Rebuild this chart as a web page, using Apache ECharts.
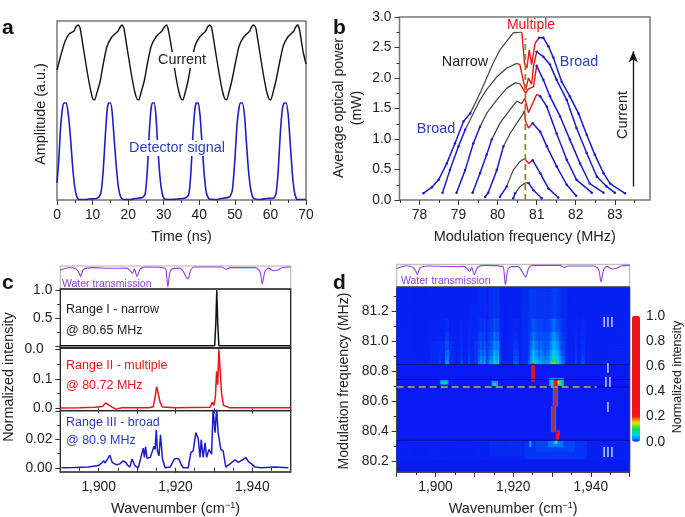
<!DOCTYPE html>
<html><head><meta charset="utf-8">
<style>html,body{margin:0;padding:0;background:#fff}#c{width:685px;height:517px}</style>
<script src="https://cdn.jsdelivr.net/npm/echarts@6/dist/echarts.min.js"></script>
</head><body><div id="c"></div>
<script>
// ---------- DATA ----------
const currentTrace=[[0,1.30],[1.1,1.45],[2.2,1.58],[3.4,1.66],[4.8,1.69],[5.3,1.73],[6,1.75],[6.5,1.72],[7.5,1.50],[8.5,1.28],[9.5,1.09],[10.1,1.01],[10.6,1.0],[11.2,1.07],[12.1,1.18],[13,1.36],[14,1.53],[15.4,1.63],[17.2,1.69],[17.6,1.72],[18.3,1.75],[18.8,1.72],[19.8,1.50],[20.8,1.28],[21.8,1.09],[22.5,1.01],[23,1.0],[23.6,1.07],[24.6,1.20],[25.5,1.38],[26.5,1.54],[27.8,1.63],[29.5,1.69],[30,1.72],[30.8,1.75],[31.3,1.70],[32.3,1.5],[33.2,1.28],[34.2,1.09],[34.9,1.01],[35.4,1.0],[36,1.07],[36.9,1.20],[37.8,1.38],[38.8,1.54],[40.1,1.63],[41.8,1.69],[42.3,1.73],[43,1.75],[43.5,1.72],[44.5,1.5],[45.5,1.28],[46.5,1.09],[47.2,1.01],[47.7,1.0],[48.3,1.07],[49.2,1.2],[50.2,1.38],[51.2,1.54],[52.5,1.63],[54.2,1.69],[54.7,1.73],[55.3,1.75],[55.9,1.72],[56.9,1.5],[57.9,1.28],[58.9,1.09],[59.6,1.01],[60.1,1.0],[60.7,1.07],[61.6,1.2],[62.6,1.38],[63.6,1.54],[64.9,1.63],[66.6,1.69],[67.1,1.73],[67.7,1.75],[68.2,1.70],[69.2,1.48],[70,1.36]];
const detectorTrace=[[0,.17],[.5,.4],[1,.72],[1.6,.93],[2,.97],[2.6,.97],[3.2,.85],[3.8,.62],[4.4,.33],[5,.13],[5.6,.03],[6.2,.005],[8,.005],[9,.01],[11,.015],[11.8,.03],[12.4,.08],[13,.3],[13.6,.65],[14.1,.9],[14.5,.97],[15,.97],[15.5,.88],[16.1,.6],[16.7,.32],[17.3,.12],[17.9,.03],[18.6,.005],[20.5,.005],[22,.015],[24,.025],[24.8,.06],[25.4,.3],[25.9,.65],[26.4,.9],[26.8,.97],[27.3,.97],[27.8,.85],[28.3,.55],[28.9,.25],[29.5,.08],[30.2,.01],[32,.005],[34,.01],[36,.02],[37,.05],[37.6,.25],[38.2,.65],[38.8,.92],[39.2,.97],[39.7,.97],[40.2,.85],[40.8,.55],[41.4,.25],[42,.07],[42.8,.01],[45,.005],[46,.015],[48.5,.03],[49.3,.1],[50,.4],[50.6,.75],[51.2,.93],[51.6,.97],[52.1,.97],[52.7,.85],[53.3,.55],[53.9,.27],[54.5,.1],[55.2,.02],[57,.005],[59,.015],[61,.02],[61.6,.07],[62.2,.3],[62.8,.68],[63.4,.92],[63.9,.97],[64.4,.97],[65,.85],[65.6,.55],[66.2,.25],[66.8,.07],[67.6,.005],[70,.005]];

// panel b: each curve has four consecutive parts
const c8BroadL=[[78.10,.11],[78.32,.21],[78.49,.33],[78.70,.60],[78.91,.93],[79.13,1.29],[79.30,1.42]];
const c8Narrow=[[79.30,1.42],[79.55,1.75],[79.72,2.0],[79.89,2.25],[80.06,2.46],[80.23,2.60],[80.40,2.74],[80.57,2.75],[80.62,2.75]];
const c8Multi=[[80.62,2.75],[80.69,2.24],[80.75,2.16],[80.81,2.46],[80.87,2.22],[80.96,2.57],[81.06,2.66]];
const c8BroadR=[[81.06,2.66],[81.17,2.66],[81.30,2.52],[81.43,2.33],[81.64,1.94],[81.85,1.70],[82.07,1.42],[82.28,1.07],[82.49,.74],[82.71,.44],[82.88,.27],[83.26,.11]];
const c7BroadL=[[78.59,.12],[78.78,.49],[79.0,.88],[79.17,1.15]];
const c7Narrow=[[79.17,1.15],[79.55,1.64],[79.72,1.81],[79.98,2.02],[80.23,2.16],[80.49,2.24]];
const c7Multi=[[80.49,2.24],[80.57,2.22],[80.66,1.95],[80.72,1.8],[80.79,2.0],[80.87,1.9],[80.92,2.2],[81.0,2.43]];
const c7BroadR=[[81.0,2.43],[81.17,2.35],[81.34,2.22],[81.51,1.97],[81.77,1.64],[82.02,1.18],[82.28,.77],[82.54,.38],[82.79,.22],[83.0,.12]];
const c6BroadL=[[78.95,.12],[79.17,.49],[79.38,.93],[79.55,1.2]];
const c6Narrow=[[79.55,1.2],[79.72,1.42],[79.98,1.64],[80.23,1.83],[80.45,1.92],[80.57,1.91]];
const c6Multi=[[80.57,1.91],[80.66,1.81],[80.72,1.75],[80.79,1.82],[80.92,1.86],[81.0,2.2]];
const c6BroadR=[[81.0,2.2],[81.17,1.97],[81.34,1.70],[81.6,1.37],[81.85,.99],[82.11,.60],[82.36,.27],[82.71,.12]];
const c5BroadL=[[79.36,.12],[79.55,.44],[79.72,.74],[79.85,.99]];
const c5Narrow=[[79.85,.99],[80.06,1.26],[80.32,1.48],[80.49,1.62],[80.62,1.58]];
const c5Multi=[[80.62,1.58],[80.70,1.67],[80.79,1.43],[81.0,1.73],[81.09,1.70]];
const c5BroadR=[[81.09,1.70],[81.26,1.53],[81.51,1.09],[81.77,.66],[82.02,.33],[82.41,.12]];
const c4BroadL=[[79.68,.05],[79.76,.12],[79.98,.49],[80.15,.88]];
const c4Narrow=[[80.15,.88],[80.32,1.09],[80.49,1.26],[80.66,1.42],[80.69,1.47]];
const c4Multi=[[80.69,1.47],[80.71,1.3],[80.79,1.18],[80.9,1.26]];
const c4BroadR=[[80.9,1.26],[81.09,1.12],[81.26,.88],[81.51,.55],[81.77,.25],[82.01,.07]];
const c3BroadL=[[80.06,.05],[80.23,.22]];
const c3Narrow=[[80.23,.22],[80.4,.49],[80.57,.63],[80.69,.68]];
const c3Multi=[[80.69,.68],[80.79,.60],[80.9,.65]];
const c3BroadR=[[80.9,.65],[81.09,.44],[81.3,.19],[81.55,.04]];
const c2BroadL=[[80.4,.03],[80.45,.11]];
const c2Narrow=[[80.45,.11],[80.57,.22],[80.7,.28]];
const c2Multi=[[80.7,.28],[80.79,.28]];
const c2BroadR=[[80.79,.28],[80.92,.16],[81.13,.03]];
const broadParts=[c8BroadL,c8BroadR,c7BroadL,c7BroadR,c6BroadL,c6BroadR,c5BroadL,c5BroadR,c4BroadL,c4BroadR,c3BroadL,c3BroadR,c2BroadL,c2BroadR];
const narrowParts=[c8Narrow,c7Narrow,c6Narrow,c5Narrow,c4Narrow,c3Narrow,c2Narrow];
const multiParts=[c8Multi,c7Multi,c6Multi,c5Multi,c4Multi,c3Multi,c2Multi];
const guideFreqLine=[[80.71,0],[80.71,2.65]];
const currentArrow=[[83.47,.22],[83.47,2.44]];

const waterTrace=[[1890,.85],[1892.5,.98],[1894.2,.9],[1894.9,.72],[1895.3,.55],[1896,.87],[1898.2,.97],[1903.4,.94],[1907.3,.95],[1908.1,.84],[1908.8,.71],[1909.3,.9],[1910,.55],[1910.8,.9],[1912.5,1.0],[1917.3,.94],[1917.7,.55],[1918,.06],[1918.5,.71],[1919,.9],[1921.2,.95],[1922,.79],[1923.2,.43],[1924,.87],[1925,1.0],[1932,1.0],[1933.2,.9],[1934.2,.97],[1940.7,.97],[1942,.79],[1942.6,.2],[1943.3,.79],[1944.2,.95],[1945.5,.82],[1946.8,.87],[1947.7,.97],[1950,1.0]];
const narrowSpectrum=[[1890,0],[1930.2,0],[1930.5,.4],[1930.75,1],[1931,.4],[1931.3,0],[1950,0]];
const multipleSpectrum=[[1890,.001],[1895,.002],[1899,.003],[1901,.006],[1901.8,.018],[1902.5,.012],[1903.5,.004],[1904.5,-.003],[1906,.002],[1913,.002],[1914.2,.005],[1914.7,.04],[1915.1,.073],[1915.5,.07],[1916,.02],[1916.6,.004],[1920,.002],[1929,.003],[1929.6,.02],[1930,.01],[1930.4,.04],[1930.7,.125],[1931,.08],[1931.3,.2],[1931.7,.195],[1932,.05],[1932.5,.01],[1934,.002],[1950,.002]];
const broadSpectrum=[[1890.3,0],[1893.8,.0002],[1897.3,.0005],[1899.9,.0016],[1900.8,.0034],[1901.3,.005],[1901.6,.0034],[1902.3,.0062],[1902.9,.009],[1903.5,.0039],[1904.7,.0021],[1905.5,.0028],[1906.4,.005],[1907,.0039],[1907.5,.002],[1908.1,.0005],[1908.7,.0062],[1909.4,.0016],[1910.3,0],[1911,.0074],[1911.6,.014],[1911.9,.0074],[1912.2,.015],[1912.6,.0067],[1913.4,.0074],[1914,.012],[1914.4,.0154],[1914.7,.013],[1915,.027],[1915.3,.012],[1915.7,.0085],[1916.1,.0235],[1916.6,.0062],[1917.3,0],[1918.6,.0005],[1919.7,.0062],[1920.3,.0067],[1920.9,.0062],[1921.4,.0028],[1922,0],[1923.3,0],[1924,.0108],[1924.6,.012],[1925.3,.025],[1925.9,.021],[1926.4,.0074],[1926.7,.02],[1927.2,.0074],[1927.7,.0177],[1928.1,.0074],[1928.7,.0131],[1929.4,.0097],[1929.8,.042],[1930.3,.025],[1930.7,.042],[1931.1,.025],[1931.8,.0131],[1932.4,.012],[1933.1,.0005],[1934.2,.0028],[1935.5,.0057],[1936.4,.0039],[1937.7,.0062],[1938.3,.0074],[1939,.0044],[1939.8,.0028],[1940.7,.0005],[1942.4,0],[1945.9,.0005],[1949.4,0]];

// panel d: stripes read per frequency band, and extra rectangular patches
const stripeCols=[1901,1902.5,1903,1906.5,1908.5,1911,1911.5,1912,1912.5,1913.5,1914,1914.5,1915,1915.5,1916,1920,1920.5,1921,1924,1924.5,1925,1925.5,1926,1926.5,1927,1927.5,1928,1928.5,1929,1929.5,1930,1930.5,1931,1931.5,1932,1932.5,1933,1936,1937.5,1938];
const stripeBands=[[80.85,80.875],[80.875,80.905],[80.905,80.945],[80.945,81.0],[81.0,81.07],[81.07,81.16],[81.16,81.36]];
const stripeBand1=[.008,.025,.03,.012,.012,.02,.03,.02,.03,.02,.03,.03,.07,.04,.06,.012,.015,.012,.02,.04,.08,.05,.045,.03,.04,.03,.025,.03,.03,.05,.10,.12,.07,.06,.03,.02,.015,.008,.01,.01];
const stripeBand2=[.006,.018,.024,.009,.009,.015,.024,.015,.024,.015,.022,.024,.055,.03,.045,.009,.012,.009,.015,.03,.06,.038,.034,.022,.03,.022,.02,.022,.024,.04,.07,.08,.05,.045,.024,.015,.012,.006,.008,.008];
const stripeBand3=[.005,.014,.018,.007,.007,.012,.018,.012,.018,.012,.018,.018,.04,.024,.034,.007,.009,.007,.012,.024,.045,.03,.026,.018,.024,.018,.015,.018,.018,.03,.05,.055,.04,.034,.018,.012,.01,.005,.006,.006];
const stripeBand4=[.004,.01,.012,.005,.005,.009,.014,.009,.014,.009,.013,.014,.028,.018,.024,.005,.007,.005,.01,.018,.03,.022,.018,.014,.018,.014,.012,.014,.014,.022,.035,.04,.028,.024,.014,.01,.008,.004,.005,.005];
const stripeBand5=[.003,.007,.008,.004,.004,.007,.01,.007,.01,.007,.01,.01,.02,.013,.017,.004,.005,.004,.008,.014,.02,.016,.013,.011,.013,.011,.01,.011,.011,.016,.024,.028,.02,.017,.011,.008,.006,.003,.004,.004];
const stripeBand6=[.002,.004,.005,.003,.003,.005,.007,.005,.007,.005,.007,.007,.012,.009,.011,.003,.004,.003,.006,.01,.013,.011,.01,.008,.01,.008,.007,.008,.008,.011,.016,.018,.013,.011,.008,.006,.005,.002,.003,.003];
const stripeBand7=[.001,.002,.002,.002,.002,.003,.004,.003,.004,.003,.004,.004,.006,.005,.006,.002,.002,.002,.004,.006,.007,.006,.006,.005,.006,.005,.004,.005,.005,.006,.008,.009,.007,.006,.005,.004,.003,.001,.002,.002];
const stripeValues=[stripeBand1,stripeBand2,stripeBand3,stripeBand4,stripeBand5,stripeBand6,stripeBand7];
// [wavenumber from, to, frequency from, to, intensity]
const heatPatches=[
 [1890,1950,80.85,81.36,.002],[1922,1924,80.85,81.36,.004],[1924,1926,80.85,81.36,.007],[1926,1932,80.85,81.36,.006],[1932,1934,80.85,81.36,.004],
 [1909,1917,80.85,81.25,.003],[1899,1905,80.85,81.0,.004],[1910,1917,80.85,81.0,.006],[1924,1933,80.85,81.0,.01],
 [1890,1950,80.2,80.337,.002],[1914,1923,80.24,80.337,.004],[1923,1939,80.22,80.337,.006],[1926,1936,80.26,80.337,.009],[1924.25,1924.75,80.29,80.337,.035],
 [1929,1933,80.29,80.337,.02],[1930.5,1931.5,80.31,80.337,.05],[1931,1931.5,80.325,80.337,.13],
 [1901.25,1903.25,80.715,80.745,.03],[1901.5,1903,80.72,80.74,.06],[1901.75,1902.75,80.725,80.735,.1],
 [1914.5,1916,80.70,80.73,.03],[1914.75,1915.75,80.705,80.725,.06],[1915,1915.5,80.71,80.72,.1],
 [1929.25,1933,80.70,80.75,.03],[1929.75,1932.75,80.705,80.745,.06],[1930.25,1932.5,80.71,80.74,.1],[1931,1932.25,80.715,80.735,.16],
 [1930.5,1931.5,80.70,80.745,1],
 [1930.5,1931.25,80.56,80.70,1],[1930.25,1931.5,80.56,80.70,.02],
 [1930,1930.75,80.395,80.565,1],[1929.75,1931,80.395,80.565,.02],
 [1931.25,1932,80.375,80.405,1],[1931,1931.75,80.34,80.385,1],
 [1924.75,1925.5,80.74,80.853,1],[1930,1931,80.85,80.865,.12]
];
const regimeLines=[80.845,80.745,80.695,80.337];
const guideFreqD=[[1890,80.695],[1941.5,80.695]];

// ticks
const aTicks=[0,10,20,30,40,50,60,70], aMinor=[5,15,25,35,45,55,65];
const bXTicks=[78,79,80,81,82,83], bXMinor=[77.5,78.5,79.5,80.5,81.5,82.5,83.5];
const bYTicks=[0,.5,1,1.5,2,2.5,3], bYMinor=[.25,.75,1.25,1.75,2.25,2.75];
const wnLabels=[1900,1920,1940], wnMajor=[1890,1900,1910,1920,1930,1940,1950], wnMinor=[1895,1905,1915,1925,1935,1945];
const dYTicks=[80.2,80.4,80.6,80.8,81.0,81.2], dYMinor=[80.3,80.5,80.7,80.9,81.1,81.3];
const barTicks=[0,.2,.4,.6,.8,1];

// ---------- BUILD ----------
const FONT='"Liberation Sans",Arial,sans-serif', INK='#222';
const BLUE='#1c1cc8', RED='#e8141c', DARK='#444', PURPLE='#9040e0', TXTBLUE='#2b3cc4';
const grid=[],xAxis=[],yAxis=[],series=[],graphic=[];
function addGrid(l,t,w,h,col,bw,bg){grid.push({left:l,top:t,width:w,height:h,show:true,borderColor:col||'#777',borderWidth:bw||1.4,backgroundColor:bg||'transparent',containLabel:false});return grid.length-1;}
function ax(list,g,pos,min,max,o){o=o||{};
 const a={type:'value',gridIndex:g,position:pos,min,max,splitLine:{show:false},axisLine:{show:false},
  axisTick:{show:!!(o.major&&o.major.length),inside:!!o.inside,length:o.len||5,customValues:o.major||[],lineStyle:{color:'#333',width:1}},
  axisLabel:{show:!!o.labels,customValues:o.labels||[],formatter:o.fmt,margin:o.margin||8,fontFamily:FONT,fontSize:13.8,color:INK,showMinLabel:true,showMaxLabel:true}};
 if(o.name){a.name=o.name;a.nameLocation='middle';a.nameGap=o.nameGap||29;a.nameTextStyle=Object.assign({fontFamily:FONT,fontSize:14.5,color:INK},o.nameStyle||{});}
 list.push(a);return list.length-1;}
function lineS(xi,yi,data,color,w,o){series.push(Object.assign({type:'line',xAxisIndex:xi,yAxisIndex:yi,data,symbol:'none',silent:true,animation:false,lineStyle:{color,width:w}},o||{}));}
function T(text,x,y,o){o=o||{};graphic.push({type:'text',x,y,rotation:o.rot||0,z:o.z||50,silent:true,style:Object.assign({text,fontFamily:FONT,fontSize:o.size||14.4,fill:o.color||INK,align:o.align||'center',verticalAlign:o.va||'middle',fontWeight:o.weight||'normal'},o.bg?{backgroundColor:o.bg,padding:o.pad||[0,1]}:{},o.ls?{lineHeight:o.ls}:{})});}
const f1=v=>v.toFixed(1), f2=v=>v.toFixed(2), fc=v=>String(v).replace(/^(\d)(\d{3})$/,'$1,$2');
const wnName={name:'{a|Wavenumber (cm}{s|−1}{a|)}',nameStyle:{rich:{a:{fontFamily:FONT,fontSize:14.5,color:INK},s:{fontFamily:FONT,fontSize:9,color:INK,verticalAlign:'top',padding:[0,0,6,0]}}}};

// panel a
let g=addGrid(57,21,249,179,'#777',1.5);
let x=ax(xAxis,g,'bottom',0,70,{major:aTicks,labels:aTicks,name:'Time (ns)'});
ax(xAxis,g,'bottom',0,70,{major:aMinor,len:3});
let y=ax(yAxis,g,'left',0,1.79,{});
lineS(x,y,currentTrace,'#111',1.4,{smooth:.15});
lineS(x,y,detectorTrace,BLUE,1.6,{smooth:.2});

// panel b
g=addGrid(399.5,17,250.5,183,'#777',1.5);
x=ax(xAxis,g,'bottom',77.49,83.9,{major:bXTicks,labels:bXTicks,name:'Modulation frequency (MHz)'});
ax(xAxis,g,'bottom',77.49,83.9,{major:bXMinor,len:3});
y=ax(yAxis,g,'left',0,3,{major:bYTicks,labels:bYTicks,fmt:f1});
ax(yAxis,g,'left',0,3,{major:bYMinor,len:3});
broadParts.forEach(d=>lineS(x,y,d,BLUE,1.5,{symbol:'circle',symbolSize:2.5,itemStyle:{color:BLUE}}));
narrowParts.forEach(d=>lineS(x,y,d,DARK,1.2));
multiParts.forEach(d=>lineS(x,y,d,RED,1.4));
lineS(x,y,guideFreqLine,'#8a8a2a',1.8,{lineStyle:{color:'#8a8a2a',width:1.8,type:[6,4]},z:5});
lineS(x,y,[],'#111',1.3,{markLine:{silent:true,animation:false,symbol:['none','arrow'],symbolSize:[7,11],label:{show:false},lineStyle:{color:'#111',width:1.3,type:'solid'},
 data:[[{coord:currentArrow[0]},{coord:currentArrow[1]}]]}});

// panel c water
g=addGrid(60.3,266,230.4,23,'#999',.8);
x=ax(xAxis,g,'bottom',1890,1950,{});
y=ax(yAxis,g,'left',-.05,1.05,{});
lineS(x,y,waterTrace,PURPLE,1.1,{smooth:.3});
// c1
g=addGrid(60.3,289,230.4,59,'#222',1.3);
x=ax(xAxis,g,'bottom',1890,1950,{});
y=ax(yAxis,g,'left',-.04,1.02,{major:[0,.5,1],labels:[.5,1],fmt:f1});
ax(yAxis,g,'left',-.04,1.02,{major:[.25,.75],len:3});
lineS(x,y,narrowSpectrum,'#111',1.5);
// c2
g=addGrid(60.3,348,230.4,62.6,'#222',1.3);
x=ax(xAxis,g,'bottom',1890,1950,{});
ax(xAxis,g,'top',1890,1950,{major:wnMajor,inside:true,len:3});
y=ax(yAxis,g,'left',-.008,.2045,{major:[0,.1,.2],labels:[0,.1],fmt:f1});
ax(yAxis,g,'left',-.008,.2045,{major:[.05,.15],len:3});
lineS(x,y,multipleSpectrum,RED,1.5);
// c3
g=addGrid(60.3,410.6,230.4,62.4,'#222',1.3);
x=ax(xAxis,g,'bottom',1890,1950,{major:wnMajor,labels:wnLabels,fmt:fc,...wnName});
ax(xAxis,g,'bottom',1890,1950,{major:wnMinor,len:3});
ax(xAxis,g,'top',1890,1950,{major:wnMajor,inside:true,len:3});
y=ax(yAxis,g,'left',-.003,.0407,{major:[0,.02,.04],labels:[0,.02],fmt:f2});
ax(yAxis,g,'left',-.003,.0407,{major:[.01,.03],len:3});
lineS(x,y,broadSpectrum,BLUE,1.5);

// panel d water
g=addGrid(396.7,264.3,233,22.7,'#999',.8);
x=ax(xAxis,g,'bottom',1890,1950,{});
y=ax(yAxis,g,'left',-.05,1.05,{});
lineS(x,y,waterTrace,PURPLE,1.1,{smooth:.3});

// panel d heat map on hidden category axes (0.25 cm-1 by 0.01 MHz cells)
const WN0=1890,WNSTEP=.25,WNN=240,FQ0=80.125,FQSTEP=.01,FQN=124;
const wnCats=[],fqCats=[];
for(let i=0;i<WNN;i++)wnCats.push(WN0+i*WNSTEP);
for(let j=0;j<FQN;j++)fqCats.push(+(FQ0+j*FQSTEP).toFixed(3));
const cell=new Map();
function paint(x0,x1,f0,f1,v){
 const i0=Math.max(0,Math.round((x0-WN0)/WNSTEP)),i1=Math.min(WNN,Math.round((x1-WN0)/WNSTEP));
 const j0=Math.max(0,Math.round((f0-FQ0)/FQSTEP)),j1=Math.min(FQN,Math.round((f1-FQ0)/FQSTEP));
 for(let i=i0;i<i1;i++)for(let j=j0;j<j1;j++){const k=i+'_'+j;if(!(cell.get(k)>=v))cell.set(k,v);}
}
heatPatches.forEach(p=>paint(p[0],p[1],p[2],p[3],p[4]));
stripeBands.forEach((b,r)=>stripeCols.forEach((c,k)=>paint(c,c+.5,b[0],b[1],stripeValues[r][k])));
const heatData=[];cell.forEach((v,k)=>{const a=k.split('_');heatData.push([+a[0],+a[1],v]);});
g=addGrid(396.7,287,233,185.3,'#333',1,'#0a1af2');
xAxis.push({type:'category',gridIndex:g,data:wnCats,show:false,boundaryGap:true});
yAxis.push({type:'category',gridIndex:g,data:fqCats,show:false,boundaryGap:true});
const heatIdx=series.length;
series.push({type:'heatmap',xAxisIndex:xAxis.length-1,yAxisIndex:yAxis.length-1,data:heatData,silent:true,animation:false,progressive:0,z:1,emphasis:{disabled:true}});
// overlay value axes
g=addGrid(396.7,287,233,185.3,'#444',1);
x=ax(xAxis,g,'bottom',1890,1950,{major:wnMajor,labels:wnLabels,fmt:fc,...wnName});
ax(xAxis,g,'bottom',1890,1950,{major:wnMinor,len:3});
y=ax(yAxis,g,'left',FQ0,FQ0+FQN*FQSTEP,{major:dYTicks,labels:dYTicks,fmt:f1});
ax(yAxis,g,'left',FQ0,FQ0+FQN*FQSTEP,{major:dYMinor,len:3});
regimeLines.forEach(f=>lineS(x,y,[[1890,f],[1950,f]],'#0a0a90',.8,{z:3}));
lineS(x,y,guideFreqD,'#8f8f70',2,{lineStyle:{color:'#8f8f70',width:2,type:[7,4]},z:4});

// colour bar
g=addGrid(632,315.7,8,126,'transparent',0);
ax(xAxis,g,'bottom',0,1,{});
ax(yAxis,g,'right',0,1,{labels:barTicks,fmt:f1,margin:6});

// text
T('a',2,18,{weight:'bold',size:21,align:'left',va:'alphabetic',color:'#111'});
T('b',333,18,{weight:'bold',size:21,align:'left',va:'alphabetic',color:'#111'});
T('c',2,273,{weight:'bold',size:21,align:'left',va:'alphabetic',color:'#111'});
T('d',333,273,{weight:'bold',size:21,align:'left',va:'alphabetic',color:'#111'});
T('Amplitude (a.u.)',41,114,{rot:Math.PI/2});
T('Current',182,60,{bg:'#fff',pad:[1,3]});
T('Detector signal',177,148,{color:TXTBLUE,bg:'#fff',pad:[1,2]});
T('Average optical power\n(mW)',348,108,{rot:Math.PI/2,ls:18,size:14.2});
T('Multiple',531,25,{color:RED,size:14});
T('Narrow',465,62);
T('Broad',579,62,{color:TXTBLUE});
T('Broad',436,129,{color:TXTBLUE});
T('Current',623,115,{rot:Math.PI/2});
T('Normalized intensity',9,377,{rot:Math.PI/2});
T('Water transmission',62,284,{size:10.5,color:PURPLE,align:'left'});
T('0.0',34,349.5,{size:13.8});
T('Range I - narrow',66,310,{size:12.5,align:'left'});
T('@ 80.65 MHz',66,331,{size:12.5,align:'left'});
T('Range II - multiple',66,366,{size:12.5,align:'left',color:RED});
T('@ 80.72 MHz',66,386,{size:12.5,align:'left',color:RED});
T('Range III - broad',66,423,{size:12.5,align:'left',color:TXTBLUE});
T('@ 80.9 MHz',66,441,{size:12.5,align:'left',color:TXTBLUE});
T('Modulation frequency (MHz)',344,381,{rot:Math.PI/2,size:14.1});
T('Water transmission',401,281,{size:10.5,color:PURPLE,align:'left'});
T('Normalized intensity',678,377,{rot:Math.PI/2,size:12.5});
[['III',323],['I',369],['II',383],['I',408],['III',453]].forEach(r=>T(r[0],608,r[1],{size:14,color:'#d8dcff'}));

// colour ramp in steps of 0.025
const ramp=['#0a1af2','#0090ff','#00c8ff','#00d8b0','#00e060','#70e430','#d8e800','#f08010','#f01c1c'];
for(let i=0;i<32;i++)ramp.push('#ee141c');

const chart=echarts.init(document.getElementById('c'),null,{renderer:'canvas'});
chart.setOption({animation:false,backgroundColor:'#fff',grid,xAxis,yAxis,series,graphic:{elements:graphic},
 visualMap:[{type:'continuous',min:0,max:1,seriesIndex:heatIdx,left:632,top:315.7,itemWidth:8,itemHeight:126,padding:0,calculable:false,showLabel:false,text:null,inRange:{color:ramp},hoverLink:false,textStyle:{fontSize:0}}]});
</script></body></html>
